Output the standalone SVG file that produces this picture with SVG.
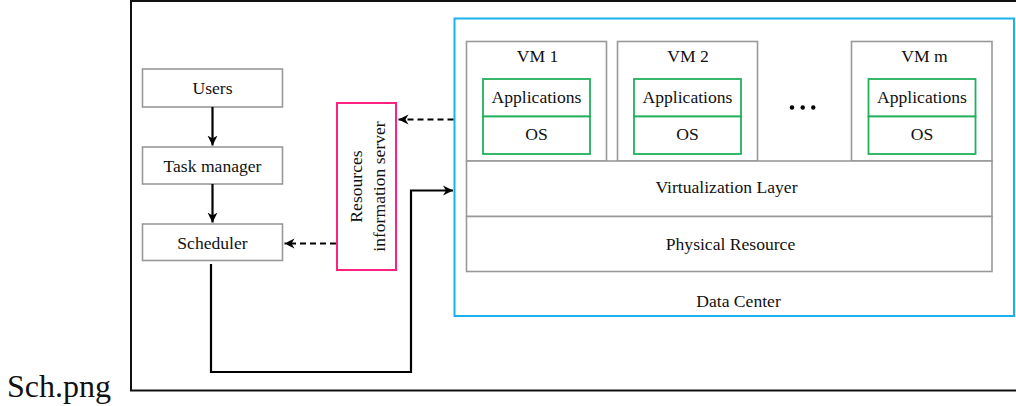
<svg xmlns="http://www.w3.org/2000/svg" width="1016" height="406" viewBox="0 0 1016 406">
<style>
text{font-family:"Liberation Serif","Times New Roman",serif;font-size:17.6px;fill:#111;text-anchor:middle}
.g{fill:#fff;stroke:#999;stroke-width:1.6}
.gr{fill:#fff;stroke:#22b05a;stroke-width:1.8}
.c{fill:none;stroke:#000;stroke-width:2.2}
.d{fill:none;stroke:#000;stroke-width:2.2;stroke-dasharray:6 4}
</style>
<defs>
<marker id="ah" markerUnits="userSpaceOnUse" markerWidth="12" markerHeight="12" refX="10" refY="5" orient="auto" viewBox="0 0 12 10">
<path d="M0,0 L10,5 L0,10 L3,5 z" fill="#000"/>
</marker>
</defs>
<rect id="frame" x="131" y="1" width="900" height="389.5" fill="#fff" stroke="#111" stroke-width="2"/>
<text x="7" y="397" style="font-size:32px;text-anchor:start">Sch.png</text>
<g id="datacenter">
<rect x="454.5" y="18.5" width="559.5" height="297.5" fill="#fff" stroke="#1ab2ee" stroke-width="2"/>
<text x="738.5" y="307">Data Center</text>
</g>
<g id="users"><rect class="g" x="142.5" y="69" width="140" height="38"/><text x="212.5" y="94">Users</text></g>
<g id="taskmanager"><rect class="g" x="142.5" y="147" width="140" height="37"/><text x="212.5" y="171.5">Task manager</text></g>
<g id="scheduler"><rect class="g" x="142.5" y="224" width="140" height="36.5"/><text x="212.5" y="248.5">Scheduler</text></g>
<g id="resources">
<rect x="337" y="103" width="59" height="167" fill="#fff" stroke="#ff2080" stroke-width="2"/>
<text transform="translate(367,186.5) rotate(-90)"><tspan x="0" y="-5">Resources</tspan><tspan x="0" y="18">information server</tspan></text>
</g>
<g id="vm1">
<rect class="g" x="466.5" y="41.5" width="140" height="119.5"/>
<text x="537.5" y="62">VM 1</text>
<rect class="gr" x="483" y="79" width="107" height="37.5"/><text x="536.5" y="103">Applications</text>
<rect class="gr" x="483" y="116.5" width="107" height="37.5"/><text x="536.5" y="140">OS</text>
</g>
<g id="vm2">
<rect class="g" x="617.5" y="41.5" width="140" height="119.5"/>
<text x="688" y="62">VM 2</text>
<rect class="gr" x="634" y="79" width="107" height="37.5"/><text x="687.5" y="103">Applications</text>
<rect class="gr" x="634" y="116.5" width="107" height="37.5"/><text x="687.5" y="140">OS</text>
</g>
<g id="dots" fill="#000"><circle cx="792" cy="107.5" r="2.2"/><circle cx="802.7" cy="107.5" r="2.2"/><circle cx="813.3" cy="107.5" r="2.2"/></g>
<g id="vmm">
<rect class="g" x="851.5" y="41.5" width="140.5" height="119.5"/>
<text x="924.5" y="62">VM m</text>
<rect class="gr" x="868.5" y="79" width="107" height="37.5"/><text x="922" y="103">Applications</text>
<rect class="gr" x="868.5" y="116.5" width="107" height="37.5"/><text x="922" y="140">OS</text>
</g>
<g id="virtualization"><rect class="g" x="466.5" y="161" width="525.5" height="55.5"/><text x="726.5" y="193">Virtualization Layer</text></g>
<g id="physical"><rect class="g" x="466.5" y="216.5" width="525.5" height="55"/><text x="730.5" y="250">Physical Resource</text></g>
<g id="connectors">
<path class="c" d="M212.5,107 V145.5" marker-end="url(#ah)"/>
<path class="c" d="M212.5,184 V222.5" marker-end="url(#ah)"/>
<path class="d" d="M453.5,119.5 H398.5" marker-end="url(#ah)"/>
<path class="d" d="M336,243.5 H284.5" marker-end="url(#ah)"/>
<path class="c" d="M211,264 V372 H411 V190.5 H453" marker-end="url(#ah)"/>
</g>
</svg>
